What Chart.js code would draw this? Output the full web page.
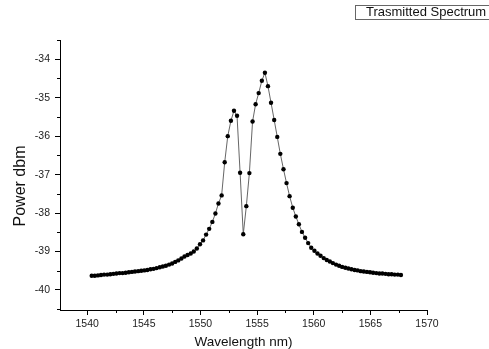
<!DOCTYPE html>
<html>
<head>
<meta charset="utf-8">
<script src="https://cdn.jsdelivr.net/npm/chart.js@4.4.1/dist/chart.umd.min.js"></script>
<style>
html,body{margin:0;padding:0;background:#fff;}
#c{display:block;}
</style>
</head>
<body>
<canvas id="c" width="489" height="349"></canvas>
<script>
const wavelength = [
1540.40,1540.67,1540.95,1541.22,1541.49,1541.77,1542.04,1542.31,1542.58,1542.86,
1543.13,1543.40,1543.68,1543.95,1544.22,1544.50,1544.77,1545.04,1545.31,1545.59,
1545.86,1546.13,1546.41,1546.68,1546.95,1547.23,1547.50,1547.77,1548.04,1548.32,
1548.59,1548.86,1549.14,1549.41,1549.68,1549.96,1550.23,1550.50,1550.77,1551.05,
1551.32,1551.59,1551.87,1552.14,1552.41,1552.69,1552.96,1553.23,1553.50,1553.78,
1554.05,1554.32,1554.60,1554.87,1555.14,1555.42,1555.69,1555.96,1556.23,1556.51,
1556.78,1557.05,1557.33,1557.60,1557.87,1558.15,1558.42,1558.69,1558.96,1559.24,
1559.51,1559.78,1560.06,1560.33,1560.60,1560.88,1561.15,1561.42,1561.69,1561.97,
1562.24,1562.51,1562.79,1563.06,1563.33,1563.61,1563.88,1564.15,1564.42,1564.70,
1564.97,1565.24,1565.52,1565.79,1566.06,1566.34,1566.61,1566.88,1567.15,1567.43,
1567.70];
const power = [
-39.63,-39.63,-39.62,-39.61,-39.60,-39.60,-39.59,-39.58,-39.57,-39.56,
-39.56,-39.55,-39.54,-39.53,-39.52,-39.51,-39.50,-39.49,-39.48,-39.46,
-39.45,-39.43,-39.41,-39.39,-39.37,-39.34,-39.31,-39.27,-39.23,-39.18,
-39.13,-39.09,-39.05,-39.00,-38.92,-38.81,-38.71,-38.56,-38.41,-38.23,
-38.01,-37.75,-37.54,-36.68,-36.00,-35.60,-35.34,-35.47,-36.95,-38.55,
-37.82,-36.96,-35.62,-35.17,-34.88,-34.56,-34.35,-34.70,-35.13,-35.58,
-36.02,-36.46,-36.86,-37.22,-37.56,-37.86,-38.09,-38.29,-38.49,-38.64,
-38.78,-38.90,-38.98,-39.05,-39.11,-39.17,-39.22,-39.26,-39.30,-39.34,
-39.37,-39.40,-39.42,-39.44,-39.46,-39.48,-39.49,-39.51,-39.52,-39.53,
-39.54,-39.55,-39.56,-39.57,-39.57,-39.58,-39.59,-39.59,-39.60,-39.60,
-39.61];
const xTicks = [1540,1545,1550,1555,1560,1565,1570];
const xMinorTicks = [1542.5,1547.5,1552.5,1557.5,1562.5,1567.5];
const yTicks = [-40,-39,-38,-37,-36,-35,-34];
const yMinorTicks = [-40.5,-39.5,-38.5,-37.5,-36.5,-35.5,-34.5,-33.5];
const seriesName = 'Trasmitted Spectrum';
const xTitle = 'Wavelength nm)';
const yTitle = 'Power dbm';

const FONT = '"Liberation Sans", Arial, sans-serif';

const extras = {
  id: 'extras',
  afterDraw(chart) {
    const ctx = chart.ctx;
    const xs = chart.scales.x, ys = chart.scales.y;
    const ca = chart.chartArea;
    ctx.save();
    ctx.strokeStyle = '#000';
    ctx.lineWidth = 1;
    ctx.beginPath();
    xMinorTicks.forEach(v => {
      const p = Math.round(xs.getPixelForValue(v)) + 0.5;
      ctx.moveTo(p, ca.bottom); ctx.lineTo(p, ca.bottom + 3);
    });
    yMinorTicks.forEach(v => {
      const p = Math.round(ys.getPixelForValue(v)) + 0.5;
      ctx.moveTo(ca.left, p); ctx.lineTo(ca.left - 3, p);
    });
    ctx.stroke();
    // y title
    ctx.fillStyle = '#111';
    ctx.font = '16px ' + FONT;
    ctx.textAlign = 'center';
    ctx.textBaseline = 'middle';
    ctx.translate(21, 186);
    ctx.rotate(-Math.PI / 2);
    ctx.fillText(yTitle, 0, 0);
    ctx.restore();
    // legend box
    ctx.save();
    ctx.font = '13px ' + FONT;
    ctx.fillStyle = '#111';
    ctx.textBaseline = 'middle';
    ctx.textAlign = 'left';
    ctx.strokeStyle = '#666';
    ctx.lineWidth = 1;
    ctx.strokeRect(355.5, 5.5, 140, 14);
    ctx.fillText(seriesName, 366, 12.5);
    ctx.restore();
  }
};

new Chart(document.getElementById('c'), {
  type: 'line',
  data: {
    datasets: [{
      label: seriesName,
      data: wavelength.map((w, i) => ({x: w, y: power[i]})),
      borderColor: '#555',
      borderWidth: 0.9,
      pointRadius: 2.2,
      pointBackgroundColor: '#000',
      pointBorderWidth: 0,
      tension: 0,
      fill: false
    }]
  },
  options: {
    responsive: false,
    animation: false,
    devicePixelRatio: 1,
    layout: {padding: {top: 40, right: 62, left: 0, bottom: 0}},
    plugins: {legend: {display: false}, tooltip: {enabled: false}},
    scales: {
      x: {
        type: 'linear',
        min: 1537.6, max: 1570,
        afterFit(s) { s.height = 39; },
        afterBuildTicks(s) { s.ticks = xTicks.map(v => ({value: v})); },
        border: {display: true, color: '#000', width: 1},
        grid: {display: true, drawOnChartArea: false, drawTicks: true, tickLength: 5, color: '#000'},
        ticks: {color: '#222', font: {family: FONT, size: 10.5}, padding: 3, maxRotation: 0, autoSkip: false,
                callback: v => String(v)},
        title: {display: true, text: xTitle, color: '#111', font: {family: FONT, size: 13.5, lineHeight: 1}, padding: 0}
      },
      y: {
        type: 'linear',
        min: -40.52, max: -33.5,
        afterFit(s) { s.width = 60; },
        afterBuildTicks(s) { s.ticks = yTicks.map(v => ({value: v})); },
        border: {display: true, color: '#000', width: 1},
        grid: {display: true, drawOnChartArea: false, drawTicks: true, tickLength: 5, color: '#000'},
        ticks: {color: '#222', font: {family: FONT, size: 10.5}, padding: 5, autoSkip: false,
                callback: v => String(v)}
      }
    }
  },
  plugins: [extras]
});
</script>
</body>
</html>
